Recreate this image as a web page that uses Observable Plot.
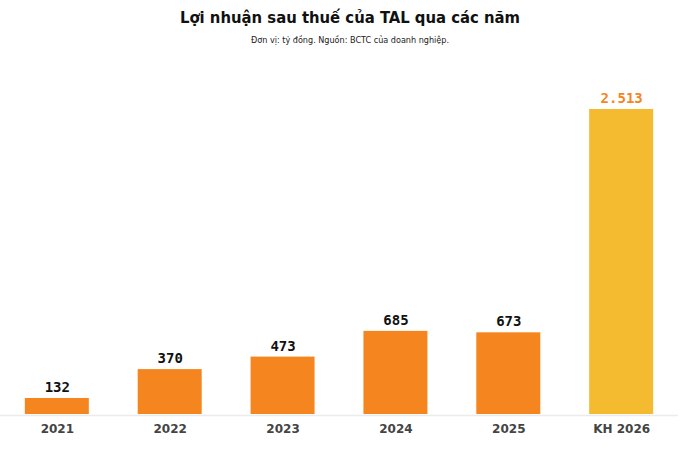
<!DOCTYPE html>
<html><head><meta charset="utf-8">
<script src="https://cdn.jsdelivr.net/npm/d3@7"></script>
<script src="https://cdn.jsdelivr.net/npm/@observablehq/plot@0.6"></script>
<style>
html,body{margin:0;padding:0;background:#fff;}
#wrap{width:700px;}
#title{height:33px;padding-top:4px;box-sizing:border-box;text-align:center;font-family:"DejaVu Sans Condensed","DejaVu Sans";font-weight:bold;font-size:16.5px;color:#111;line-height:28px;}
#sub{height:22px;text-align:center;font-family:"DejaVu Sans Condensed","DejaVu Sans";font-size:9px;color:#222;line-height:14px;}
</style></head>
<body><div id="wrap">
<div id="title">Lợi nhuận sau thuế của TAL qua các năm</div>
<div id="sub">Đơn vị: tỷ đồng. Nguồn: BCTC của doanh nghiệp.</div>
<div id="chart"></div>
</div>
<script>
const categories = ["2021","2022","2023","2024","2025","KH 2026"];
const profits = [132, 370, 473, 685, 673, 2513];
const valueLabels = ["132","370","473","685","673","2.513"];
const kinds = ["actual","actual","actual","actual","actual","plan"];

const data = categories.map((c,i)=>({year:c, value:profits[i], label:valueLabels[i], kind:kinds[i]}));
const barColor = {actual:"#F5861F", plan:"#F4BB30"};
const labelColor = {actual:"#111", plan:"#F5861F"};

const chart = Plot.plot({
  width: 700, height: 400,
  marginLeft: 0, marginRight: 22, marginTop: 54, marginBottom: 41,
  x: {domain: categories, paddingInner: 0.433, paddingOuter: 0.22, round: false, label: null},
  y: {domain: [0, 2513], axis: null},
  marks: [
    Plot.ruleY([0], {stroke:"#ebebeb", strokeWidth:1.5, dy:1}),
    Plot.barY(data, {x:"year", y:"value", fill: d => barColor[d.kind]}),
    Plot.text(data, {x:"year", y:"value", text:"label", dy:-11, fill: d => labelColor[d.kind],
      fontFamily:"DejaVu Sans Mono", fontWeight:"bold", fontSize:14}),
    Plot.axisX({tickSize:0, tickPadding:10, fontSize:12, fontWeight:"bold", fill:"#444",
      fontFamily:"DejaVu Sans", label:null})
  ]
});
document.getElementById("chart").appendChild(chart);
</script>
</body></html>
